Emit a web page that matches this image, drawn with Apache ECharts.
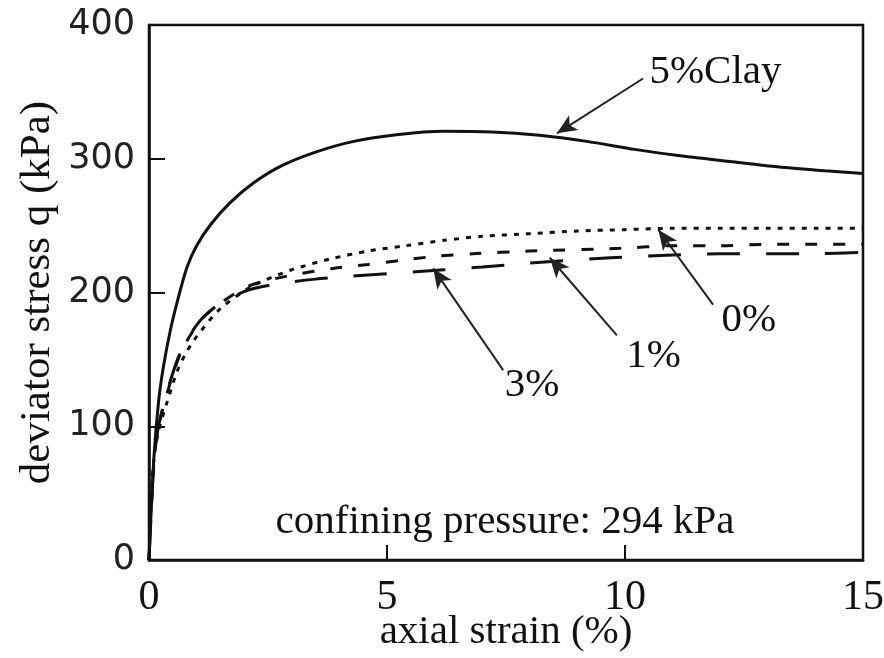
<!DOCTYPE html>
<html>
<head>
<meta charset="utf-8">
<script src="https://cdn.jsdelivr.net/npm/echarts@6/dist/echarts.min.js"></script>
<style>
  html, body { margin: 0; padding: 0; background: #fff; }
  #chart { width: 884px; height: 658px; }
</style>
</head>
<body>
<div id="chart"></div>
<script>
// axial strain (%) vs deviator stress q (kPa)
const clay5 = [[0, 0], [0.1, 75], [0.2, 118], [0.3, 144], [0.45, 172], [0.6, 194], [0.8, 219],
  [1, 235], [1.3, 251], [1.7, 267], [2.2, 282], [2.8, 295], [3.5, 305], [4.3, 313], [5.2, 318],
  [6.2, 320.5], [7.2, 320], [8.2, 317.5], [9.2, 313], [10.2, 307], [11.2, 302], [12.2, 298],
  [13.2, 294], [14.2, 291], [15, 289]]
const clay0 = [[0, 0], [0.08, 67], [0.19, 95], [0.38, 118], [0.59, 141], [0.78, 155], [1, 167],
  [1.5, 188], [2.18, 205], [3, 217], [3.8, 225], [4.6, 231], [5.4, 235], [6.2, 239], [7, 242],
  [8, 244], [9, 246], [10, 247], [11, 248], [12, 248], [13, 248], [14, 248], [15, 248]]
const clay1 = [[0, 0], [0.1, 72], [0.2, 100], [0.4, 127], [0.6, 149], [0.8, 164], [1.1, 180],
  [1.5, 192], [2.1, 205], [3, 213], [3.87, 218], [4.6, 221], [5.3, 224], [6, 227], [6.8, 229],
  [8, 231], [9.9, 233], [11, 235], [12, 235], [13, 236], [14, 236], [15, 236]]
const clay3 = [[0, 0], [0.1, 72], [0.2, 100], [0.4, 128], [0.6, 150], [0.8, 165], [1.1, 180],
  [1.5, 192], [2.1, 202], [2.8, 207], [3.5, 210], [4.2, 212], [5, 214], [5.6, 215.5], [6.2, 217],
  [7, 219], [8, 222], [9.7, 226], [11, 228], [12, 229], [13, 229], [14, 229], [15, 230]]

// annotation arrows: [tail, tip] and label positions, in data units
const arrows = [
  [[10.38, 360], [8.57, 319]],
  [[11.85, 191], [10.7, 247]],
  [[9.83, 168], [8.42, 226]],
  [[7.44, 142], [5.97, 218]]
]
const labels = [
  { name: '5%Clay', coord: [11.9, 365] },
  { name: '0%', coord: [12.6, 179] },
  { name: '1%', coord: [10.6, 152] },
  { name: '3%', coord: [8.05, 131] },
  { name: 'confining pressure: 294 kPa', coord: [7.48, 28.5] }
]

const serif = 'Liberation Serif'
const chart = echarts.init(document.getElementById('chart'), null, { renderer: 'canvas' })

function lineSeries(name, data, type) {
  return {
    name: name,
    type: 'line',
    data: data,
    showSymbol: false,
    smooth: 0.25,
    lineStyle: { color: '#111', width: 3, type: type },
    z: 3
  }
}

const s5 = lineSeries('5%Clay', clay5, 'solid')
s5.markLine = {
  silent: true,
  symbol: ['none', 'arrow'],
  symbolSize: [13, 20],
  label: { show: false },
  lineStyle: { color: '#222', width: 2, type: 'solid' },
  data: arrows.map(a => [{ coord: a[0] }, { coord: a[1] }])
}
s5.markPoint = {
  silent: true,
  symbol: 'circle',
  symbolSize: 0,
  label: {
    show: true,
    position: 'inside',
    formatter: '{b}',
    color: '#111',
    fontFamily: serif,
    fontSize: 41
  },
  data: labels
}

chart.setOption({
  animation: false,
  backgroundColor: '#fff',
  grid: {
    left: 149,
    right: 21,
    top: 25,
    bottom: 98,
    outerBoundsMode: 'none',
    containLabel: false,
    show: true,
    borderColor: '#111',
    borderWidth: 2.5
  },
  xAxis: {
    type: 'value',
    min: 0,
    max: 15,
    interval: 5,
    name: 'axial strain (%)',
    nameLocation: 'middle',
    nameGap: 52,
    nameMoveOverlap: false,
    nameTextStyle: { fontFamily: serif, fontSize: 41, color: '#111' },
    axisLine: { lineStyle: { color: '#111', width: 2.5 } },
    axisTick: { show: true, inside: true, length: 15, lineStyle: { color: '#111', width: 2 } },
    axisLabel: { fontFamily: serif, fontSize: 42, color: '#111', margin: 17 },
    splitLine: { show: false }
  },
  yAxis: {
    type: 'value',
    min: 0,
    max: 400,
    interval: 100,
    name: 'deviator stress q (kPa)',
    nameLocation: 'middle',
    nameGap: 90,
    nameMoveOverlap: false,
    nameTextStyle: { fontFamily: serif, fontSize: 43, color: '#111' },
    axisLine: { lineStyle: { color: '#111', width: 2.5 } },
    axisTick: { show: true, inside: true, length: 16, lineStyle: { color: '#111', width: 2 } },
    axisLabel: { fontFamily: 'DejaVu Sans', fontSize: 35, color: '#222', margin: 14 },
    splitLine: { show: false }
  },
  series: [
    s5,
    lineSeries('0%', clay0, [5, 7]),
    lineSeries('1%', clay1, [12, 16]),
    lineSeries('3%', clay3, [33, 26])
  ]
})
</script>
</body>
</html>
